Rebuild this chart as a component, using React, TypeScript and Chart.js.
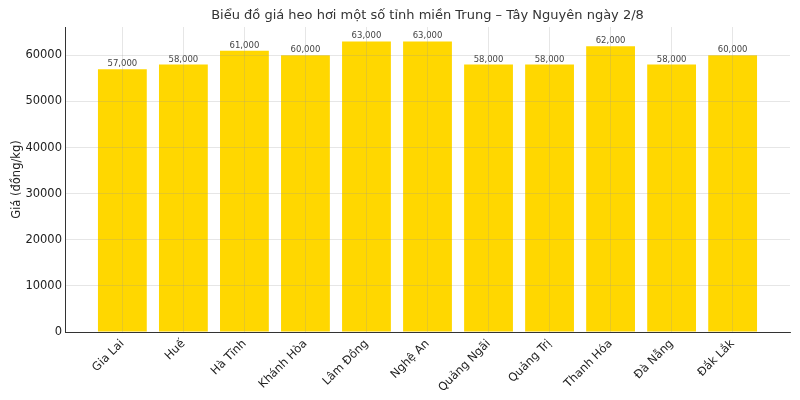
import React, { useEffect, useRef } from 'react';
import Chart from 'chart.js/auto';

const provinces = ['Gia Lai', 'Huế', 'Hà Tĩnh', 'Khánh Hòa', 'Lâm Đồng', 'Nghệ An', 'Quảng Ngãi', 'Quảng Trị', 'Thanh Hóa', 'Đà Nẵng', 'Đắk Lắk'];
const prices = [57000, 58000, 61000, 60000, 63000, 63000, 58000, 58000, 62000, 58000, 60000];
const yTicks = [0, 10000, 20000, 30000, 40000, 50000, 60000];

const chartTitle = 'Biểu đồ giá heo hơi một số tỉnh miền Trung – Tây Nguyên ngày 2/8';
const yTitle = 'Giá (đồng/kg)';

// value labels above each bar + title centred over the plot area
const barLabels = {
    id: 'barLabels',
    afterDatasetsDraw(chart: any) {
        const ctx = chart.ctx;
        const meta = chart.getDatasetMeta(0);
        ctx.save();
        ctx.font = '8.5px "DejaVu Sans"';
        ctx.fillStyle = '#444';
        ctx.textAlign = 'center';
        ctx.textBaseline = 'bottom';
        meta.data.forEach((bar: any, i: number) => {
            ctx.fillText(prices[i].toLocaleString('en-US'), bar.x, bar.y - 1);
        });
        ctx.restore();
    },
    afterDraw(chart: any) {
        const ctx = chart.ctx;
        const { left, right } = chart.chartArea;
        ctx.save();
        ctx.font = '13px "DejaVu Sans"';
        ctx.fillStyle = '#333';
        ctx.textAlign = 'center';
        ctx.textBaseline = 'middle';
        ctx.fillText(chartTitle, (left + right) / 2, 16);
        ctx.restore();
    }
};

const App: React.FC = () => {
    const chartRef = useRef<HTMLCanvasElement>(null);
    const chartInstance = useRef<Chart | null>(null);

    useEffect(() => {
        if (!chartRef.current) return;
        document.body.style.margin = '0';

        if (chartInstance.current) {
            chartInstance.current.destroy();
        }

        Chart.defaults.font.family = '"DejaVu Sans", sans-serif';

        // grid sits above the bars, like matplotlib's default
        const gridStyle: any = {
            color: 'rgba(150, 150, 150, 0.3)',
            lineWidth: 0.8,
            offset: false,
            drawTicks: false,
            z: 1,
        };

        chartInstance.current = new Chart(chartRef.current, {
            type: 'bar',
            data: {
                datasets: [{
                    data: prices.map((p, i) => ({ x: i, y: p })),
                    backgroundColor: '#FFD700',
                    borderWidth: 0,
                    barPercentage: 0.8,
                    categoryPercentage: 1,
                }]
            },
            options: {
                responsive: true,
                maintainAspectRatio: false,
                animation: false,
                layout: { padding: { left: 0, right: 10, top: 27, bottom: 0 } },
                scales: {
                    x: {
                        type: 'linear',
                        min: -0.94,
                        max: 10.94,
                        offset: false,
                        z: 1,
                        afterBuildTicks: (axis: any) => {
                            axis.ticks = provinces.map((_, i) => ({ value: i }));
                        },
                        afterFit: (axis: any) => { axis.height = 68; },
                        grid: { ...gridStyle },
                        border: { display: true, color: '#333', width: 1, z: 2 },
                        ticks: {
                            autoSkip: false,
                            maxRotation: 45,
                            minRotation: 45,
                            padding: 5,
                            color: '#222',
                            font: { size: 11.5 },
                            callback: (v: any) => provinces[v] ?? '',
                        },
                    },
                    y: {
                        min: 0,
                        max: 66150,
                        z: 1,
                        afterBuildTicks: (axis: any) => {
                            axis.ticks = yTicks.map(v => ({ value: v }));
                        },
                        afterFit: (axis: any) => { axis.width = 65; },
                        grid: { ...gridStyle },
                        border: { display: true, color: '#333', width: 1, z: 2 },
                        title: {
                            display: true,
                            text: yTitle,
                            color: '#222',
                            font: { size: 11.5 },
                            padding: { top: 10, bottom: 0 },
                        },
                        ticks: {
                            padding: 3,
                            color: '#222',
                            font: { size: 11.5 },
                            callback: (v: any) => String(v),
                        },
                    }
                },
                plugins: {
                    legend: { display: false },
                    tooltip: { enabled: false },
                    title: { display: false }
                }
            },
            plugins: [barLabels]
        });

        // dashed grid lines on both axes
        const scales: any = chartInstance.current.options.scales!;
        scales.x.grid.borderDash = [4, 2];
        scales.y.grid.borderDash = [4, 2];
        chartInstance.current.update();

        return () => {
            if (chartInstance.current) {
                chartInstance.current.destroy();
                chartInstance.current = null;
            }
        };
    }, []);

    return (
        <div style={{ position: 'fixed', left: 0, top: 0, width: 800, height: 400, background: '#fff' }}>
            <canvas ref={chartRef}></canvas>
        </div>
    );
};

export default App;
